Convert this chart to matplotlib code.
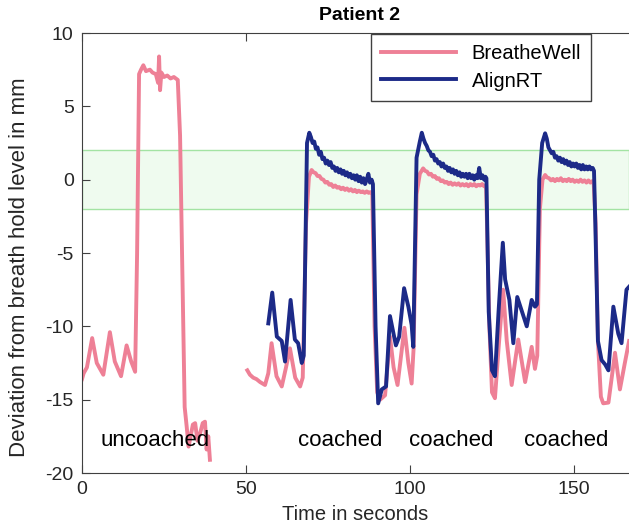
import numpy as np
import matplotlib.pyplot as plt

plt.rcParams['font.family'] = ['Liberation Sans', 'DejaVu Sans']
plt.rcParams['axes.unicode_minus'] = False

# BreatheWell, uncoached piece: (time s, deviation mm)
bw_pts1 = [(0, -13.6), (0.5, -13.2), (1.5, -12.8), (3.1, -10.8), (4.5, -12.5), (6.5, -13.3),
           (8.5, -10.4), (10, -12.4), (11.9, -13.4), (13.6, -11.3), (15, -12.4), (16.2, -13.1),
           (16.8, -5), (17.4, 7.2), (18.0, 7.5), (18.7, 7.8), (19.5, 7.4), (20.7, 7.5),
           (21.5, 7.3), (22.5, 7.2), (23.2, 6.6), (23.5, 8.4), (23.8, 6.1), (24.2, 7.3),
           (25, 7.0), (26, 7.1), (27, 6.9), (28, 7.0), (29.2, 6.8), (29.9, 3), (30.5, -5),
           (31.3, -15.5), (31.9, -16.8), (32.5, -18.2), (33.2, -17.4), (33.8, -16.7),
           (34.5, -16.6), (35.2, -17.8), (36, -17.3), (36.8, -16.6), (37.5, -16.5), (38, -18.4),
           (38.5, -17.5), (39, -19.1)]

# BreatheWell, coached piece
bw_pts2 = [(50.4, -13.0), (51.2, -13.3), (52.2, -13.5), (53.2, -13.6), (54.3, -13.8),
           (55.8, -14.0), (56.8, -13.2), (57.8, -11.15), (59.3, -13.4), (60.9, -14.1),
           (62.2, -12.8), (63.4, -11.5), (65.0, -13.5), (66.5, -14.1), (67.3, -13.5), (68.3, -3),
           (69.2, 0.2), (70.0, 0.66), (70.6, 0.5), (71.2, 0.45), (71.8, 0.25), (72.4, 0.25),
           (73.0, 0.05), (73.6, 0.0), (74.2, -0.2), (74.8, -0.15), (75.4, -0.35), (76.0, -0.3),
           (76.6, -0.5), (77.2, -0.4), (77.8, -0.55), (78.4, -0.5), (79.0, -0.65), (79.6, -0.55),
           (80.2, -0.7), (80.8, -0.6), (81.4, -0.75), (82.0, -0.65), (82.6, -0.8), (83.2, -0.7),
           (83.8, -0.85), (84.4, -0.75), (85.0, -0.85), (85.6, -0.8), (86.2, -0.9), (86.8, -0.8),
           (87.4, -0.9), (88.0, -0.85), (88.5, -0.9), (89.2, -10), (90.0, -14.5), (90.9, -15.0),
           (92.4, -14.7), (93.9, -10.7), (95.0, -12.8), (96.2, -14.0), (98.3, -10.1),
           (99.5, -12.5), (100.5, -13.9), (101.1, -11.5), (102.0, -1), (103.0, 0.4),
           (104.0, 0.77), (104.6, 0.6), (105.2, 0.55), (105.8, 0.35), (106.4, 0.4), (107.0, 0.2),
           (107.6, 0.25), (108.2, 0.05), (108.8, 0.1), (109.4, -0.1), (110.0, -0.05),
           (110.6, -0.2), (111.2, -0.15), (111.8, -0.3), (112.4, -0.2), (113.0, -0.35),
           (113.6, -0.25), (114.2, -0.35), (114.8, -0.25), (115.4, -0.4), (116.0, -0.3),
           (116.6, -0.4), (117.2, -0.3), (117.8, -0.45), (118.4, -0.3), (119.0, -0.4),
           (119.6, -0.3), (120.2, -0.45), (120.8, -0.35), (121.4, -0.4), (122.0, -0.3),
           (122.6, -0.45), (123.2, -0.4), (124.2, -10), (125.0, -14.5), (125.9, -14.9),
           (127.0, -11.5), (128.4, -7.5), (129.5, -11.0), (131.0, -14.0), (133.0, -10.9),
           (135.1, -13.8), (137.1, -11.4), (138.1, -12.9), (138.8, -12.0), (139.6, -2),
           (140.4, 0.0), (141.2, 0.32), (141.8, 0.15), (142.4, 0.1), (143.0, -0.05),
           (143.6, 0.05), (144.2, -0.1), (144.8, 0.05), (145.4, -0.05), (146.0, 0.1),
           (146.6, -0.1), (147.2, 0.0), (147.8, -0.1), (148.4, 0.05), (149.0, -0.1),
           (149.6, 0.0), (150.2, -0.15), (150.8, -0.05), (151.4, -0.15), (152.0, 0.0),
           (152.6, -0.15), (153.2, -0.05), (153.8, -0.2), (154.4, -0.05), (155.0, -0.2),
           (155.6, -0.1), (156.0, -0.2), (156.6, -3), (157.3, -11), (158.2, -14.8),
           (158.9, -15.25), (160.5, -15.2), (161.5, -13.5), (162.5, -11.8), (164.0, -14.3),
           (165.5, -12.5), (166.8, -11.0)]

# AlignRT
ar_pts = [(56.8, -9.8), (58.0, -7.7), (59.4, -10.7), (60.9, -11.0), (61.9, -12.4), (63.6, -8.2),
          (64.9, -10.9), (65.9, -11.15), (67.0, -12.5), (67.6, -12.0), (68.6, 2.5), (69.3, 3.2),
          (69.8, 2.9), (70.3, 2.5), (70.8, 2.6), (71.3, 2.1), (71.8, 2.2), (72.3, 1.7),
          (72.8, 1.9), (73.3, 1.4), (73.8, 1.5), (74.3, 1.1), (74.8, 1.3), (75.3, 1.0),
          (75.8, 1.2), (76.3, 0.8), (76.8, 0.9), (77.3, 0.6), (77.8, 0.8), (78.3, 0.5),
          (78.8, 0.7), (79.3, 0.4), (79.8, 0.6), (80.3, 0.3), (80.8, 0.5), (81.3, 0.2),
          (81.8, 0.4), (82.3, 0.1), (82.8, 0.3), (83.3, 0.0), (83.8, 0.3), (84.3, -0.1),
          (84.8, 0.2), (85.3, -0.2), (85.8, 0.1), (86.3, -0.3), (86.8, 0.0), (87.3, 0.4),
          (87.8, -0.2), (88.3, 0.0), (88.7, -0.3), (89.5, -10), (90.3, -15.25), (91.4, -14.3),
          (92.7, -14.1), (93.9, -9.3), (94.9, -10.4), (95.7, -11.3), (96.7, -10.7), (98.2, -7.4),
          (99.5, -8.66), (100.5, -9.9), (101.0, -11.4), (102.0, 1.5), (103.0, 2.6), (103.6, 3.2),
          (104.1, 2.8), (104.6, 2.5), (105.1, 2.3), (105.6, 2.0), (106.1, 1.9), (106.6, 1.6),
          (107.1, 1.7), (107.6, 1.3), (108.1, 1.4), (108.6, 1.1), (109.1, 1.2), (109.6, 0.9),
          (110.1, 1.1), (110.6, 0.8), (111.1, 0.9), (111.6, 0.6), (112.1, 0.8), (112.6, 0.5),
          (113.1, 0.7), (113.6, 0.4), (114.1, 0.6), (114.6, 0.3), (115.1, 0.5), (115.6, 0.2),
          (116.1, 0.4), (116.6, 0.2), (117.1, 0.4), (117.6, 0.1), (118.1, 0.4), (118.6, 0.1),
          (119.1, 0.3), (119.6, 0.0), (120.1, 0.3), (120.6, 0.1), (121.1, 0.8), (121.6, 0.1),
          (122.1, 0.3), (122.6, 0.0), (123.0, 0.2), (123.3, 0.1), (124.0, -9), (125.0, -13.0),
          (125.9, -13.4), (127.0, -9), (128.3, -4.3), (129.0, -6.8), (130.3, -8.2),
          (131.5, -11.15), (132.7, -8.0), (134.0, -8.9), (135.6, -10.0), (137.1, -8.2),
          (138.1, -8.66), (138.7, -8.5), (139.4, 0), (140.3, 2.5), (141.2, 3.16), (141.7, 2.8),
          (142.2, 2.2), (142.7, 2.0), (143.2, 1.8), (143.7, 1.9), (144.2, 1.5), (144.7, 1.6),
          (145.2, 1.3), (145.7, 1.5), (146.2, 1.2), (146.7, 1.4), (147.2, 1.1), (147.7, 1.3),
          (148.2, 1.0), (148.7, 1.2), (149.2, 0.9), (149.7, 1.1), (150.2, 0.9), (150.7, 1.1),
          (151.2, 0.8), (151.7, 1.0), (152.2, 0.7), (152.7, 1.0), (153.2, 0.7), (153.7, 0.9),
          (154.2, 0.7), (154.7, 0.9), (155.2, 0.7), (155.7, 0.8), (156.1, 0.6), (156.5, -3),
          (157.3, -11), (158.4, -12.3), (159.5, -12.6), (160.5, -13.0), (162.0, -8.66),
          (163.5, -10.5), (164.5, -11.15), (166.0, -7.5), (166.8, -7.3)]

labels = ['uncoached', 'coached', 'coached', 'coached']
label_t = [22.3, 78.7, 112.5, 147.6]

pink = '#ee8096'
navy = '#1c2a88'
axcol = '#404040'
txtcol = '#262626'

bw1 = np.array(bw_pts1)
bw2 = np.array(bw_pts2)
ar = np.array(ar_pts)

fig = plt.figure(figsize=(6.29, 5.29), dpi=100)
ax = fig.add_axes([82/629, 56/529, 547/629, 440/529])

ax.axhspan(-2, 2, facecolor='#effbef', edgecolor='#a3e3a3', lw=1)
ax.plot(bw1[:, 0], bw1[:, 1], color=pink, lw=2.8, label='BreatheWell')
ax.plot(bw2[:, 0], bw2[:, 1], color=pink, lw=2.8)
ax.plot(ar[:, 0], ar[:, 1], color=navy, lw=2.8, label='AlignRT')

for s, t in zip(labels, label_t):
    ax.text(t, -17.75, s, ha='center', va='center', fontsize=16)

ax.set_xlim(0, 166.77)
ax.set_ylim(-20, 10)
ax.set_xticks([0, 50, 100, 150])
ax.set_yticks(np.arange(-20, 11, 5))
ax.spines['right'].set_visible(False)
for sp in ['left', 'bottom', 'top']:
    ax.spines[sp].set_color(axcol)
ax.tick_params(direction='in', top=True, length=6, colors=axcol, labelsize=14,
               labelcolor=txtcol, pad=6)

ax.set_xlabel('Time in seconds', fontsize=14.5, color=txtcol, labelpad=5)
ax.set_ylabel('Deviation from breath hold level in mm', fontsize=16, color=txtcol)
ax.yaxis.set_label_coords(-0.095, 0.468)
ax.set_title('Patient 2', fontweight='bold', fontsize=14, x=0.508, pad=9)

ax.legend(loc='upper left', bbox_to_anchor=(371/629, 1 - 34/529),
          bbox_transform=fig.transFigure, borderaxespad=0, fontsize=14.5,
          handlelength=3.7, fancybox=False, edgecolor=axcol, framealpha=1,
          borderpad=0.5, labelspacing=0.42)

plt.savefig('out.png', dpi=100)
